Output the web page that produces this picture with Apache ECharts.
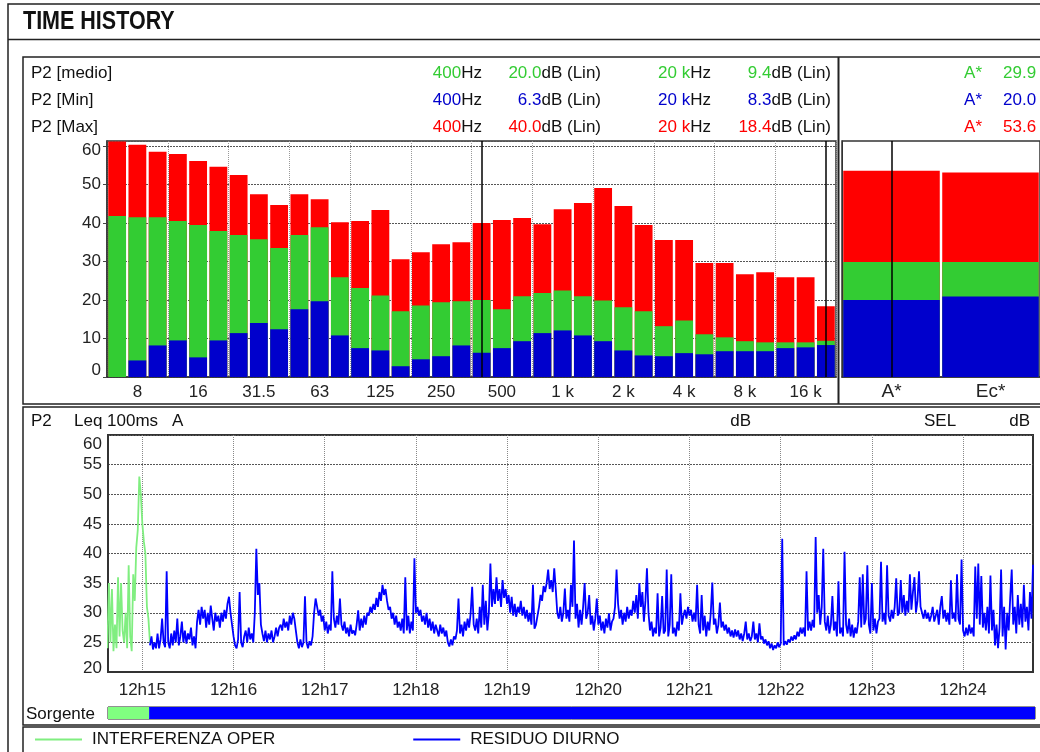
<!DOCTYPE html>
<html lang="it">
<head>
<meta charset="UTF-8">
<title>TIME HISTORY</title>
<script src="https://cdn.jsdelivr.net/npm/echarts@6/dist/echarts.min.js"></script>
<style>
    html, body { margin: 0; padding: 0; background: #fff; }
    #main { width: 1040px; height: 752px; }
</style>
</head>
<body>
<div id="main"></div>
<script type="text/javascript">
    // bande 1/3 di ottava
    var bands = ['6.3', '8', '10', '12.5', '16', '20', '25', '31.5', '40', '50', '63', '80', '100', '125', '160', '200',
        '250', '315', '400', '500', '630', '800', '1 k', '1.25 k', '1.6 k', '2 k', '2.5 k', '3.15 k', '4 k', '5 k',
        '6.3 k', '8 k', '10 k', '12.5 k', '16 k', '20 k'];
    var bandMax = [61.2, 60.3, 58.5, 57.9, 56.1, 54.6, 52.5, 47.5, 44.7, 47.5, 46.2, 40.2, 40.5, 43.4, 30.6, 32.4,
        34.5, 35.0, 40.0, 40.8, 41.3, 39.7, 43.6, 45.2, 49.1, 44.4, 39.5, 35.6, 35.6, 29.6, 29.6, 26.7, 27.2, 25.9, 25.9, 18.4];
    var bandMedio = [41.8, 41.5, 41.5, 40.5, 39.5, 37.9, 36.9, 35.8, 33.5, 36.9, 38.9, 25.9, 23.1, 21.2, 17.1, 18.6,
        19.4, 19.7, 20.0, 17.6, 21.0, 21.8, 22.5, 21.0, 19.9, 18.1, 17.1, 13.2, 14.7, 11.1, 10.3, 9.3, 9.0, 9.0, 9.0, 9.4];
    var bandMin = [0, 4.3, 8.2, 9.5, 5.1, 9.5, 11.4, 14.0, 12.4, 17.6, 19.7, 10.8, 7.5, 6.9, 2.8, 4.6,
        5.4, 8.2, 6.3, 7.5, 9.3, 11.4, 12.1, 10.8, 9.3, 6.9, 5.6, 5.4, 6.2, 5.9, 6.7, 6.7, 6.7, 7.5, 7.7, 8.3];
    var cursor1 = 18, cursor2 = 35;

    // livelli globali
    var totalNames = ['A*', 'Ec*'];
    var totalMax = [53.6, 53.1];
    var totalMedio = [29.9, 29.9];
    var totalMin = [20.0, 20.9];

    // time history Leq (secondi dopo le 12h00, un valore al secondo)
    var timeMin = 877.4, timeMax = 1486;
    var timeTicks = [900, 960, 1020, 1080, 1140, 1200, 1260, 1320, 1380, 1440];
    var greenStart = 877;
    var greenLevels = [24, 35, 25, 34, 23.5, 28, 24, 36, 26, 35, 27, 25, 30, 24, 38, 26, 23.5, 36.5, 32, 41,
        44, 53, 50, 45, 42, 40, 31, 29, 25];
    var blueStart = 905;
    var blueLevels = [
        24.5, 26, 23.8, 25, 24, 26.5, 24, 25.5, 29, 25, 24.2, 37,
        25, 24, 26.5, 24.5, 27, 25, 29, 24.5, 26, 28.5, 25, 27, 24.8, 26.5, 25.5, 27.5, 24.5, 26, 24,
        28.5, 30.5, 28, 31, 29, 30.5, 27.5, 30, 28, 31.2, 29, 27, 30, 28.5, 29.5, 27.5, 30, 28.5, 30.5, 29, 31.5, 32.7, 30, 28,
        26, 24.5, 24, 25.5, 33.5, 25, 24.2, 26,
        27, 25, 27.5, 25.5, 26.5, 25,
        30, 40.8, 33, 35, 28,
        26.5, 25.2, 27, 25, 26.5, 25.5, 27, 25, 26, 27.5, 26, 27.5,
        28, 27, 29, 27.5, 28.5, 27, 29.5, 28, 30, 29, 27,
        25, 24, 25.5, 24.2, 25, 32.8, 25, 24, 25.2, 24.5, 26,
        30, 32.4, 31, 29.5, 30.5, 28.5, 29.5, 27, 28.5, 26.5, 28, 27, 37, 29, 27.5, 29.5, 28,
        32.4, 28,
        27, 28.5, 26.5, 27.5, 26, 28, 26.5, 27, 26.2,
        28, 30.4, 27, 29, 27.5, 29.5, 28, 30,
        29.5, 31, 30, 31.5, 30.5, 32.5, 31, 33.5, 32, 34.7, 33, 34,
        32, 30.5, 31, 29, 30, 28, 29.5, 27.5, 28.5,
        27, 29, 26.5, 36, 27, 29.5, 26.5, 28.5, 27,
        39.2, 30,
        31, 29.5, 30.5, 28.5, 29.5, 28, 30, 27.5, 29, 27, 28.5, 26.5, 28, 27, 26, 28, 26.5, 27.5, 26, 27,
        25, 24.3, 25.5, 24.5,
        26, 25.5, 27, 32.4, 26.5, 28, 26, 28.5, 27, 29, 27.5, 29.9, 34.4, 28, 27,
        29, 26.5, 31, 27.5, 34.7, 28, 32, 27, 30,
        38.3, 31, 34,
        31.5, 36, 32, 34, 31, 35.5, 32.5, 34, 31.5, 33,
        30, 32.7, 29.5, 31.5, 29.3, 31, 30, 32, 29.5,
        31, 29, 30.5, 28.5, 30, 28, 34.7, 27.3, 28,
        29.5, 31, 33, 32, 34.5, 33.5, 35, 37.3, 34, 35.5, 33.5, 37.5, 34,
        30, 29, 31, 28.5, 30, 34.1, 29, 30.5, 28.5, 34.7,
        31, 42.2,
        29, 31.5, 27.5, 30.5, 28, 31, 35, 29, 30, 33, 28, 29.5, 27, 29, 32.4,
        28, 29.5, 27, 28.5, 26.5, 29, 27.5, 29.9, 27, 28.5,
        29, 31, 37.3, 31.5, 29, 30.5, 28, 30, 28.5, 31, 29, 30.5, 29.5,
        32, 30, 33, 29, 35, 31, 33.5, 28.5, 32, 37.5, 30,
        27, 28.5, 26, 27.5, 26.5, 33.3, 26, 27.5, 32.8, 26.5, 27, 37.3, 26, 28, 36.5, 26.5, 27.5, 26, 28.5, 27, 33.3, 28, 29.5,
        30.5, 29, 31, 29.5, 30.5, 28.5, 30, 28.5,
        34.7, 28, 26.5, 33, 27, 29.5, 26, 28.5, 27, 30, 35.1, 28, 29, 26.5, 28, 31.7, 27.5, 28.5,
        27, 28, 26.5, 27.5, 26, 27, 25.8, 27.2, 26, 27, 25.5, 26.5, 25.2, 26.5, 28.5, 25.5, 26.5, 25.2, 26, 28.5,
        25.5, 26.5, 25, 28.2, 25.5, 26, 24.8, 25.5,
        24.5, 25.2, 24, 24.8, 23.7, 24.5, 24, 25, 24.2, 24.8,
        42.5, 24.5, 25.2, 24.6, 25.5, 25, 26, 25.3, 26.2, 25.5, 26.8, 26, 27.5,
        26.5, 27.5, 26, 37, 27, 28.5, 27, 28.8, 27.5,
        42.8, 30, 33, 28, 31, 40.8,
        28.5, 27, 29.5, 26.5, 28, 32.8, 27, 28.5, 26, 35.3, 26.5, 27.5,
        26, 40.3, 28, 26.5, 29, 26, 28, 25.8, 27.5, 26.5, 28.5,
        36, 27.5, 36.5, 28, 29, 38,
        28, 26.5, 35, 27, 29, 26.5, 28.5,
        29, 38.6, 28.5, 30, 28, 38, 29.5, 28.5, 30.5, 29, 31, 35.8, 29.5, 30, 35.5,
        30, 33, 29.5, 32, 30, 36.5, 30.5, 33.5, 36, 30, 32, 37, 31,
        30, 29, 30.5, 29, 30, 28.5, 29.5, 31, 28.5,
        29.5, 30.5, 28, 31, 32.8, 29, 30.5, 28.5, 30, 28, 35.5, 29, 30, 28.5, 36.5, 29,
        28, 39,
        27, 26, 27.5, 26.2, 28, 26.5, 27.5, 26, 37.8,
        29, 38.3, 28, 36.2, 27.5, 30, 27, 31, 26.5, 36.3, 27, 30.5, 24.5, 28, 24, 27.5, 37.3,
        26, 31, 23.8, 30, 27, 32.5, 37.3, 28, 31, 26.5, 33, 28, 31.5, 27.5, 34.7, 28.5, 31, 27, 33.5, 29, 38.1
    ];

    // sorgenti
    var sourceNames = ['INTERFERENZA OPERATIVA', 'RESIDUO DIURNO'];
    var sourceFrom = [877.4, 904.4];
    var sourceTo = [904.4, 1486];

    var RED = '#ff0000', GREEN = '#33cc33', BLUE = '#0000cc';
    var LINE_GREEN = '#80ee80', LINE_BLUE = '#0000ff';
    var FONT = 'Liberation Sans, Arial, sans-serif';

    var myChart = echarts.init(document.getElementById('main'), null, {renderer: 'canvas'});

    function every3(i) { return i % 3 === 1; }
    function toPairs(start, arr) {
        return arr.map(function (v, i) { return [start + i, v]; });
    }

    // testi intestazione
    var rowNames = ['P2 [medio]', 'P2 [Min]', 'P2 [Max]'];
    var rowColors = [GREEN, BLUE, RED];
    var rowBands = [bandMedio, bandMin, bandMax];
    var rowTotals = [totalMedio[0], totalMin[0], totalMax[0]];
    var rowY = [73, 100, 127];

    function txt(x, y, text, align, color, extra) {
        var style = {
            text: text, x: x, y: y, align: align || 'left', verticalAlign: 'middle',
            fontSize: 17, fontFamily: FONT, fill: '#111'
        };
        if (color) {
            style.rich = {c: {fill: color, fontSize: 17, fontFamily: FONT}};
        }
        if (extra) {
            for (var k in extra) style[k] = extra[k];
        }
        return {type: 'text', silent: true, z: 10, style: style};
    }

    var title = txt(0, 0, 'TIME HISTORY', 'left', null, {fontSize: 25, fontWeight: 'bold'});
    title.x = 23;
    title.y = 22;
    title.scaleX = 0.86;

    var graphics = [
        // cornice esterna + titolo
        {type: 'rect', silent: true, shape: {x: 8, y: 4, width: 1100, height: 800}, style: {fill: null, stroke: '#222', lineWidth: 1.5}},
        {type: 'line', silent: true, shape: {x1: 8, y1: 39.5, x2: 1040, y2: 39.5}, style: {stroke: '#222', lineWidth: 1.5}},
        title,
        // pannello spettro
        {type: 'rect', silent: true, shape: {x: 23, y: 57, width: 1100, height: 347}, style: {fill: null, stroke: '#222', lineWidth: 1.5}},
        {type: 'line', silent: true, shape: {x1: 838.5, y1: 57, x2: 838.5, y2: 404}, style: {stroke: '#222', lineWidth: 2}},
        // pannello time history
        {type: 'rect', silent: true, shape: {x: 23, y: 407, width: 1100, height: 318}, style: {fill: null, stroke: '#222', lineWidth: 1.5}},
        txt(31, 421, 'P2'),
        txt(74, 421, 'Leq 100ms'),
        txt(172, 421, 'A'),
        txt(751, 421, 'dB', 'right'),
        txt(924, 421, 'SEL'),
        txt(1030, 421, 'dB', 'right'),
        txt(26, 714, 'Sorgente'),
        // riquadro legenda
        {type: 'rect', silent: true, shape: {x: 23, y: 727, width: 1100, height: 40}, style: {fill: null, stroke: '#222', lineWidth: 1.5}}
    ];

    for (var r = 0; r < 3; r++) {
        var c = rowColors[r];
        graphics.push(txt(31, rowY[r], rowNames[r]));
        graphics.push(txt(482, rowY[r], '{c|' + bands[cursor1] + '}Hz', 'right', c));
        graphics.push(txt(601, rowY[r], '{c|' + rowBands[r][cursor1].toFixed(1) + '}dB (Lin)', 'right', c));
        graphics.push(txt(711, rowY[r], '{c|' + bands[cursor2] + '}Hz', 'right', c));
        graphics.push(txt(831, rowY[r], '{c|' + rowBands[r][cursor2].toFixed(1) + '}dB (Lin)', 'right', c));
        graphics.push(txt(982, rowY[r], '{c|' + totalNames[0] + '}', 'right', c));
        graphics.push(txt(1003, rowY[r], '{c|' + rowTotals[r].toFixed(1) + '}', 'left', c));
    }

    var cursorLine = {
        silent: true, symbol: 'none', animation: false,
        label: {show: false},
        lineStyle: {color: '#000', width: 1.5, type: 'solid'}
    };

    function bar(name, axis, data, color, width, mark) {
        var s = {
            name: name, type: 'bar', xAxisIndex: axis, yAxisIndex: axis,
            data: data, barWidth: width, barGap: '-100%',
            itemStyle: {color: color}, silent: true
        };
        if (mark) {
            s.markLine = echarts.util.merge({data: mark}, cursorLine, true);
        }
        return s;
    }

    var labelStyle = {fontSize: 17, fontFamily: FONT, color: '#222'};

    var option = {
        animation: false,
        backgroundColor: '#fff',
        graphic: graphics,
        legend: {
            data: sourceNames,
            left: 35, top: 731, padding: 0,
            icon: 'rect', itemWidth: 47, itemHeight: 2, itemGap: 138,
            selectedMode: false,
            textStyle: {
                fontSize: 17, fontFamily: FONT, color: '#111',
                width: 195, overflow: 'truncate', ellipsis: '', padding: [0, 0, 0, 5]
            }
        },
        grid: [
            {left: 107, top: 141, width: 729, height: 236, show: true, borderColor: '#333', borderWidth: 1.5, outerBoundsMode: 'none'},
            {left: 842, top: 141, width: 198, height: 236, show: true, borderColor: '#333', borderWidth: 1.5, outerBoundsMode: 'none'},
            {left: 108, top: 435, width: 925, height: 237, show: true, borderColor: '#333', borderWidth: 2, outerBoundsMode: 'none'},
            {left: 108, top: 707, width: 927, height: 12, show: true, borderColor: '#222', borderWidth: 1, outerBoundsMode: 'none'}
        ],
        xAxis: [
            {
                gridIndex: 0, type: 'category', data: bands,
                axisLine: {lineStyle: {color: '#333', width: 1.5}},
                axisTick: {interval: every3, alignWithLabel: true, length: 4, lineStyle: {color: '#444'}},
                axisLabel: echarts.util.extend({interval: every3, margin: 7}, labelStyle),
                splitLine: {show: true, interval: function (i) { return i % 3 === 0; }, lineStyle: {color: '#999', type: 'dotted'}}
            },
            {
                gridIndex: 1, type: 'category', data: totalNames,
                axisLine: {lineStyle: {color: '#333', width: 1.5}},
                axisTick: {alignWithLabel: true, length: 4, lineStyle: {color: '#444'}},
                axisLabel: {fontSize: 19, fontFamily: FONT, color: '#222', margin: 5}
            },
            {
                gridIndex: 2, type: 'value', min: timeMin, max: timeMax,
                axisLine: {lineStyle: {color: '#333', width: 2}},
                axisTick: {show: false, customValues: timeTicks},
                axisLabel: echarts.util.extend({
                    customValues: timeTicks, margin: 10,
                    formatter: function (v) { return '12h' + Math.round(v / 60); }
                }, labelStyle),
                splitLine: {show: true, lineStyle: {color: '#888', type: 'dotted'}}
            },
            {gridIndex: 3, type: 'value', min: timeMin, max: timeMax, show: false}
        ],
        yAxis: [
            {
                gridIndex: 0, type: 'value', min: 0, max: 61.3, interval: 10,
                axisLine: {show: true, lineStyle: {color: '#333', width: 1.5}},
                axisTick: {show: true, length: 4, lineStyle: {color: '#444'}},
                axisLabel: echarts.util.extend({
                    margin: 6, showMaxLabel: false,
                    formatter: function (v) {
                        if (v === 60) return '{t|60}';
                        if (v === 0) return '{b|0}';
                        return v;
                    },
                    rich: {t: {padding: [8, 0, 0, 0]}, b: {padding: [0, 0, 14, 0]}}
                }, labelStyle),
                splitLine: {show: true, lineStyle: {color: '#555', type: [2, 1]}}
            },
            {
                gridIndex: 1, type: 'value', min: 0, max: 61.3, interval: 10,
                axisLine: {show: true, lineStyle: {color: '#333'}},
                axisTick: {show: false}, axisLabel: {show: false}, splitLine: {show: false}
            },
            {
                gridIndex: 2, type: 'value', min: 20, max: 60, interval: 5,
                axisLine: {show: true, lineStyle: {color: '#333', width: 2}},
                axisTick: {show: false},
                axisLabel: echarts.util.extend({
                    margin: 6,
                    formatter: function (v) {
                        if (v === 60) return '{t|60}';
                        if (v === 20) return '{b|20}';
                        return v;
                    },
                    rich: {t: {padding: [18, 0, 0, 0]}, b: {padding: [0, 0, 8, 0]}}
                }, labelStyle),
                splitLine: {show: true, lineStyle: {color: '#555', type: [2, 1]}}
            },
            {gridIndex: 3, type: 'category', data: ['Sorgente'], show: false}
        ],
        series: [
            bar('Max', 0, bandMax, RED, '88%'),
            bar('Medio', 0, bandMedio, GREEN, '88%'),
            bar('Min', 0, bandMin, BLUE, '88%', [{xAxis: bands[cursor1]}, {xAxis: bands[cursor2]}]),
            bar('Max', 1, totalMax, RED, '97.5%'),
            bar('Medio', 1, totalMedio, GREEN, '97.5%'),
            bar('Min', 1, totalMin, BLUE, '97.5%', [{xAxis: totalNames[0]}]),
            {
                name: sourceNames[0], type: 'line', xAxisIndex: 2, yAxisIndex: 2,
                data: toPairs(greenStart, greenLevels), showSymbol: false, silent: true,
                itemStyle: {color: LINE_GREEN}, lineStyle: {color: LINE_GREEN, width: 1.8}
            },
            {
                name: sourceNames[1], type: 'line', xAxisIndex: 2, yAxisIndex: 2,
                data: toPairs(blueStart, blueLevels), showSymbol: false, silent: true,
                itemStyle: {color: LINE_BLUE}, lineStyle: {color: LINE_BLUE, width: 1.8}
            },
            {
                name: 'Sorgente', type: 'custom', xAxisIndex: 3, yAxisIndex: 3, silent: true,
                data: sourceFrom.map(function (f, i) { return [f, sourceTo[i], 0, i]; }),
                encode: {x: [0, 1], y: 2},
                renderItem: function (params, api) {
                    var a = api.coord([api.value(0), 0]);
                    var b = api.coord([api.value(1), 0]);
                    var h = api.size([0, 1])[1];
                    return {
                        type: 'rect',
                        shape: {x: a[0], y: a[1] - h / 2, width: b[0] - a[0], height: h},
                        style: {fill: api.value(3) === 0 ? '#80ff80' : '#0000ff'}
                    };
                }
            }
        ]
    };

    myChart.setOption(option);
</script>
</body>
</html>
